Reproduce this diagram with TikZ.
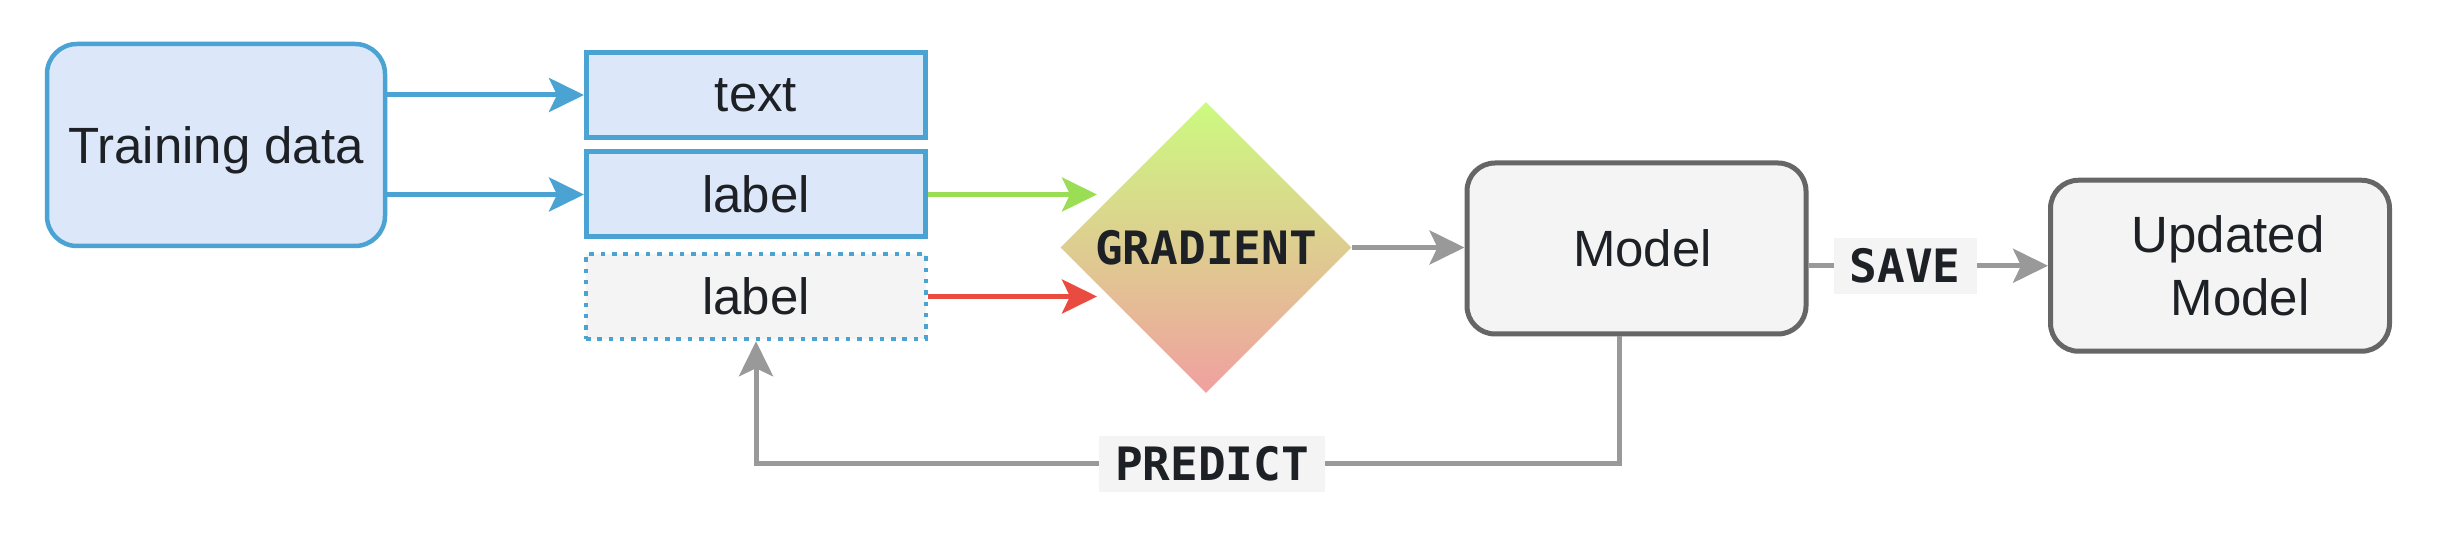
\documentclass[tikz,border=0pt]{standalone}
\usepackage{fontspec}
\setmainfont{Liberation Sans}
\newfontfamily\monob{DejaVu Sans Mono}
\usetikzlibrary{arrows.meta,shapes.geometric}
\definecolor{bblue}{HTML}{4BA3D3}
\definecolor{bfill}{HTML}{DCE8FA}
\definecolor{gfill}{HTML}{F4F4F4}
\definecolor{gline}{HTML}{666666}
\definecolor{conn}{HTML}{999999}
\definecolor{grn}{HTML}{9BDD55}
\definecolor{rd}{HTML}{EA4B40}
\definecolor{txt}{HTML}{1D2125}
\definecolor{gtop}{HTML}{CCFA80}
\definecolor{gbot}{HTML}{F0A0A0}
\begin{document}
\begin{tikzpicture}[x=0.5pt,y=-0.5pt,
  font=\fontsize{25.5}{31.5}\selectfont, text=txt,
  mainbox/.style={inner sep=0pt, text depth=0pt},
  trainbox/.style={mainbox, draw=bblue, fill=bfill, line width=2.25pt, rounded corners=15pt, minimum width=169pt, minimum height=101pt},
  bluebox/.style={mainbox, draw=bblue, fill=bfill, line width=2.5pt, minimum width=169.5pt, minimum height=42.5pt},
  dotbox/.style={mainbox, draw=bblue, fill=gfill, line width=2.25pt, dash pattern=on 2.25pt off 3.4pt, minimum width=170pt, minimum height=42.5pt},
  graybox/.style={inner sep=0pt, draw=gline, fill=gfill, line width=2.5pt, rounded corners=14pt, minimum width=169.5pt, minimum height=85.5pt},
  arr/.style={-{Stealth[length=17.5pt,width=17pt,inset=4pt]}, line width=2.5pt},
  bconn/.style={arr, draw=bblue},
  gconn/.style={arr, draw=grn},
  rconn/.style={arr, draw=rd},
  cconn/.style={arr, draw=conn},
  lbl/.style={fill=gfill, text=txt, font=\monob\bfseries\fontsize{23}{28}\selectfont, inner xsep=8pt, inner ysep=0pt, minimum height=28pt}
]
\useasboundingbox (0,0) rectangle (2442,544);

\node[trainbox] (train) at (216,145) {Training data};
\node[bluebox] (text) at (756,95) {text};
\node[bluebox] (label) at (756,194.5) {label};
\node[dotbox] (pred) at (756,296.5) {label};
\node[diamond, aspect=1, inner sep=0pt, minimum width=145.5pt, minimum height=145.5pt,
      top color=gtop, bottom color=gbot, font=\monob\bfseries\fontsize{23}{28}\selectfont] (grad) at (1206,247.5) {GRADIENT};
\node[graybox] (model) at (1636.5,248.5) {\hspace*{6pt}Model};
\node[graybox, align=center] (upd) at (2220,265.75) {\hspace*{8pt}Updated\\\hspace*{20pt}Model};

\coordinate (gin) at (1097,194.5);
\coordinate (rin) at (1097,296.5);
\coordinate (pc) at (756,464);

\draw[bconn] (train.east |- text.west) -- (text.west);
\draw[bconn] (train.east |- label.west) -- (label.west);
\draw[gconn] (label.east) -- (gin);
\draw[rconn] (pred.east) -- (rin);
\draw[cconn] (grad.east) -- (grad.east -| model.west);
\draw[cconn] (model.east |- upd.west) -- node[lbl, pos=0.404] {SAVE} (upd.west);
\draw[cconn] ([xshift=-8.5pt]model.south) -- ([xshift=-8.5pt]model.south |- pc) -- node[lbl, pos=0.472] {PREDICT} (pc) -- (pred.south);
\end{tikzpicture}
\end{document}
